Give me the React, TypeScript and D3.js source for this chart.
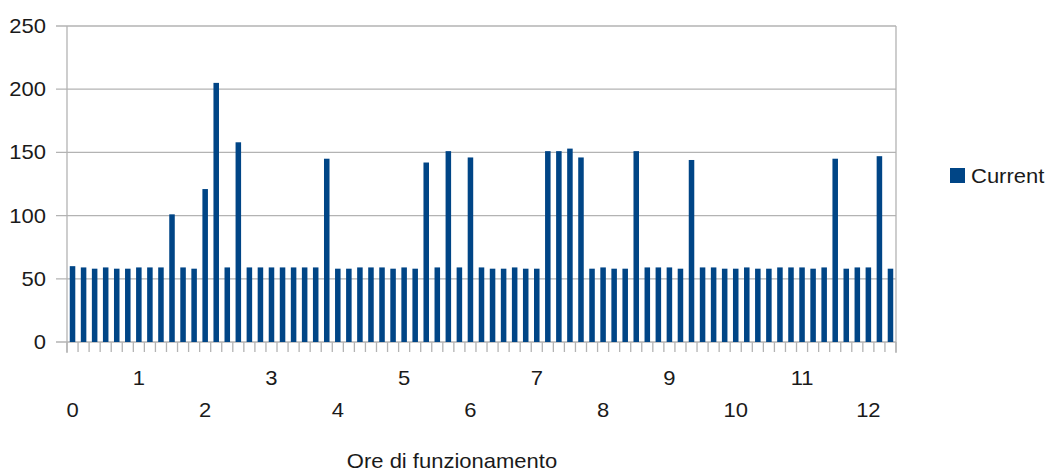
import React from "react";
import * as d3 from "d3";

const categories: string[] = Array.from({ length: 75 }, (_, i) => String(i));
const currentValues: number[] = [
  60, 59, 58, 59, 58, 58, 59, 59, 59, 101,
  59, 58, 121, 205, 59, 158, 59, 59, 59, 59,
  59, 59, 59, 145, 58, 58, 59, 59, 59, 58,
  59, 58, 142, 59, 151, 59, 146, 59, 58, 58,
  59, 58, 58, 151, 151, 153, 146, 58, 59, 58,
  58, 151, 59, 59, 59, 58, 144, 59, 59, 58,
  58, 59, 58, 58, 59, 59, 59, 58, 59, 145,
  58, 59, 59, 147, 58,
];
const hourLabels: string[] = ["0", "1", "2", "3", "4", "5", "6", "7", "8", "9", "10", "11", "12"];
const hourLabelCategoryIndex: number[] = [0, 6, 12, 18, 24, 30, 36, 42, 48, 54, 60, 66, 72];
const yTicks: number[] = [0, 50, 100, 150, 200, 250];
const seriesName = "Current";
const xTitle = "Ore di funzionamento";

const W = 1052;
const H = 473;
const left = 67;
const right = 896;
const top = 26;
const bottom = 342;
const barColor = "#004586";
const gridColor = "#b3b3b3";
const font = "'Liberation Sans', Arial, sans-serif";

export default function App() {
  const x = d3
    .scaleBand<string>()
    .domain(categories)
    .range([left, right])
    .paddingInner(0.5)
    .paddingOuter(0.25);
  const y = d3.scaleLinear().domain([0, 250]).range([bottom, top]);
  const step = x.step();

  const txt = (
    key: string,
    tx: number,
    ty: number,
    s: string,
    anchor: "start" | "middle" | "end",
    size = 20
  ) => (
    <text
      key={key}
      transform={`translate(${tx},${ty}) scale(1.1,1)`}
      textAnchor={anchor}
      fontFamily={font}
      fontSize={size}
      fill="#1a1a1a"
    >
      {s}
    </text>
  );

  return (
    <div style={{ position: "absolute", left: 0, top: 0 }}>
      <svg width={W} height={H} style={{ display: "block", background: "#fff" }}>
        {/* grid lines */}
        {yTicks.map((t) => (
          <line
            key={"g" + t}
            x1={left - 11}
            x2={right}
            y1={y(t)}
            y2={y(t)}
            stroke={gridColor}
            strokeWidth={1.3}
          />
        ))}
        {/* vertical axis & right border */}
        <line x1={left} x2={left} y1={top} y2={bottom + 11} stroke={gridColor} strokeWidth={1.3} />
        <line x1={right} x2={right} y1={top} y2={bottom + 11} stroke={gridColor} strokeWidth={1.3} />
        {/* category ticks */}
        {d3.range(categories.length + 1).map((k) => (
          <line
            key={"t" + k}
            x1={left + k * step}
            x2={left + k * step}
            y1={bottom}
            y2={bottom + 10}
            stroke={gridColor}
            strokeWidth={1.3}
          />
        ))}
        {/* bars */}
        {currentValues.map((v, i) => (
          <rect
            key={"b" + i}
            x={x(categories[i])!}
            y={y(v)}
            width={x.bandwidth()}
            height={y(0) - y(v)}
            fill={barColor}
          />
        ))}
        {/* y labels */}
        {yTicks.map((t) => txt("y" + t, 46, y(t) + 7, String(t), "end"))}
        {/* x labels, staggered */}
        {hourLabels.map((l, j) => {
          const cx = x(categories[hourLabelCategoryIndex[j]])! + x.bandwidth() / 2;
          const ty = j % 2 === 1 ? 385 : 417;
          return txt("x" + j, cx, ty, l, "middle");
        })}
        {/* axis title */}
        {txt("title", 452, 468, xTitle, "middle")}
        {/* legend */}
        <rect x={950} y={168} width={15} height={15} fill={barColor} />
        {txt("leg", 971, 183, seriesName, "start")}
      </svg>
    </div>
  );
}
